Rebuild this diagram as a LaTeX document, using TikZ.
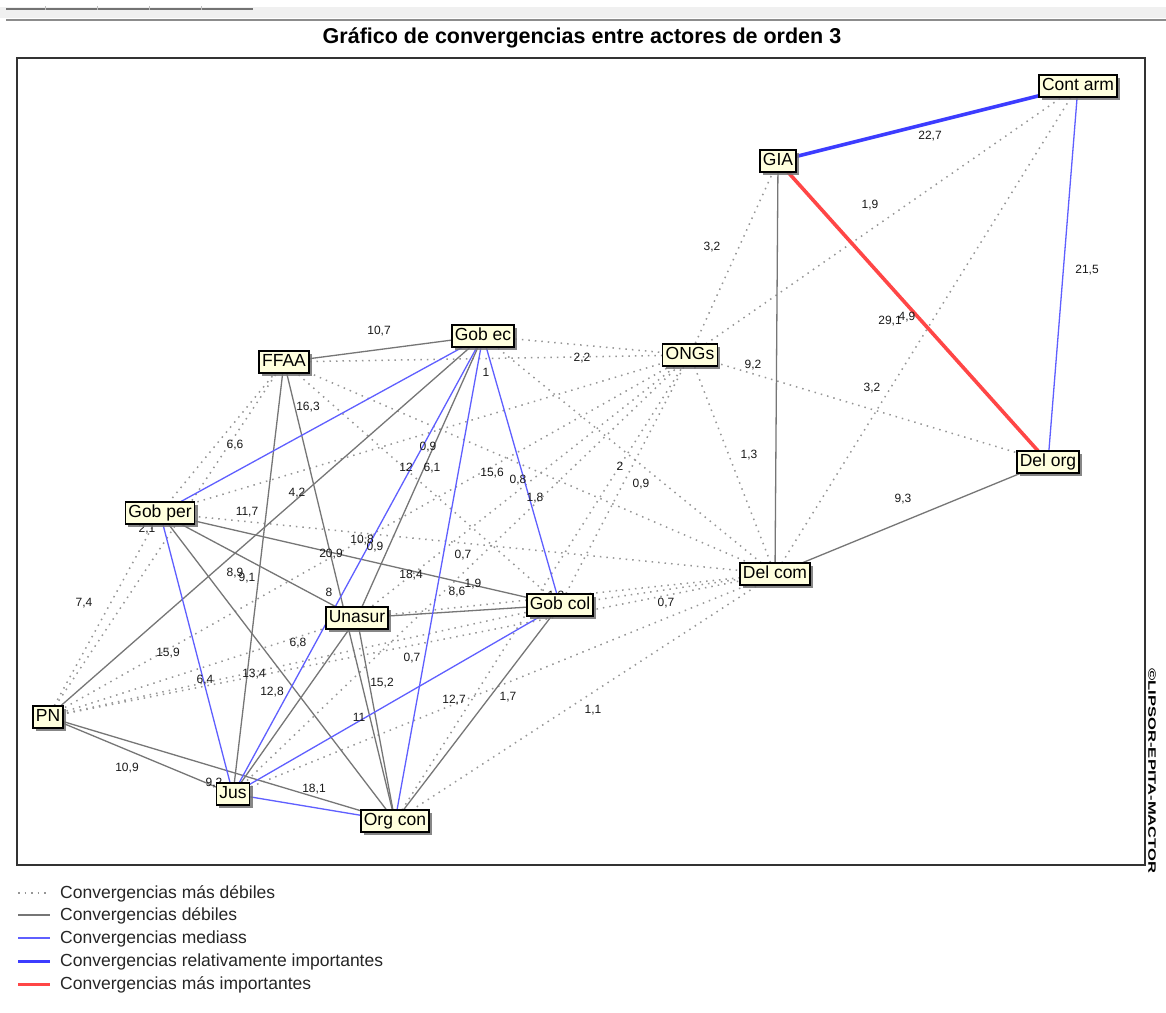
\documentclass[tikz,border=0pt]{standalone}
\usepackage{fontspec}
\setmainfont{Liberation Sans}
\usetikzlibrary{shadows}
\pgfdeclarelayer{back}
\pgfdeclarelayer{bg}
\pgfsetlayers{back,bg,main}
\definecolor{nodefill}{RGB}{255,255,222}
\definecolor{weakc}{RGB}{118,118,118}
\definecolor{dotc}{RGB}{150,150,150}
\definecolor{medc}{RGB}{95,95,255}
\definecolor{relc}{RGB}{60,60,255}
\definecolor{impc}{RGB}{255,70,70}
\begin{document}
\begin{tikzpicture}[x=1pt,y=-1pt,
  actor/.style={draw=black, line width=1.5pt, fill=nodefill,
    font=\fontsize{17.5}{17.5}\selectfont, inner xsep=3pt, inner ysep=0pt,
    minimum height=22pt, text height=12.5pt, text depth=3.5pt,
    drop shadow={shadow xshift=3pt, shadow yshift=-3pt, fill=black!55, opacity=0.85}},
  vweak/.style={draw=dotc, line width=1.5pt, dash pattern=on 1.5pt off 5pt},
  weak/.style={draw=weakc, line width=1.3pt},
  med/.style={draw=medc, line width=1.3pt},
  rel/.style={draw=relc, line width=3.6pt},
  imp/.style={draw=impc, line width=3.6pt},
  lab/.style={font=\fontsize{12}{12}\selectfont, inner sep=0pt, text=black!90},
  legtext/.style={font=\fontsize{17.5}{17.5}\selectfont, anchor=west, inner sep=0pt, text height=12.5pt, text depth=3.5pt, text=black!85}
]
\useasboundingbox (0,0) rectangle (1166,1012);
\begin{pgfonlayer}{back}
\fill[white] (0,0) rectangle (1166,1012);
% top bar
\fill[black!6] (0,7) rectangle (1166,18);
\draw[black!45, line width=2pt] (6,19.5) -- (1166,19.5);
\draw[black!55, line width=2.5pt] (6,9) -- (253,9);
\foreach \t in {45,97,149,201} \draw[black!25, line width=0.8pt] (\t,6) -- (\t,10);
% frame
\draw[black!80, line width=1.5pt] (17,58) rectangle (1145,865);
\end{pgfonlayer}
% title
\node[font=\bfseries\fontsize{21.5}{21.5}\selectfont] (title) at (582,38) {Gráfico de convergencias entre actores de orden 3};
% watermark
\node[rotate=-90, inner sep=0pt] (wm) at (1152,771) {\resizebox{205pt}{7.5pt}{\bfseries ©LIPSOR-EPITA-MACTOR}};

% actors
\node[actor] (contarm) at (1078,86) {Cont arm};
\node[actor] (gia) at (778,161) {GIA};
\node[actor] (gobec) at (483,336) {Gob ec};
\node[actor] (ffaa) at (284,362) {FFAA};
\node[actor] (ongs) at (690,355) {ONGs};
\node[actor] (delorg) at (1048,462) {Del org};
\node[actor] (gobper) at (160,513) {Gob per};
\node[actor] (delcom) at (775,574) {Del com};
\node[actor] (gobcol) at (560,605) {Gob col};
\node[actor] (unasur) at (357,618) {Unasur};
\node[actor] (pn) at (48,717) {PN};
\node[actor] (jus) at (233,794) {Jus};
\node[actor] (orgcon) at (395,821) {Org con};

\begin{pgfonlayer}{bg}
% weakest (dotted)
\foreach \a/\b in {ongs/gia, ongs/contarm, delcom/contarm, ongs/delorg, ongs/delcom,
  gobec/ongs, ffaa/ongs, gobper/ongs, pn/ongs, unasur/ongs, gobcol/ongs, jus/ongs, orgcon/ongs,
  gobec/delcom, ffaa/delcom, gobper/delcom, pn/delcom, unasur/delcom, gobcol/delcom, jus/delcom, orgcon/delcom,
  gobper/ffaa, pn/gobper, pn/ffaa, pn/unasur, pn/gobcol, ffaa/gobcol}
  \draw[vweak] (\a.center) -- (\b.center);
% weak (gray)
\foreach \a/\b in {ffaa/gobec, ffaa/jus, ffaa/orgcon, gobec/pn, gobec/unasur, gobper/gobcol,
  gobper/unasur, gobper/orgcon, unasur/gobcol, unasur/orgcon, unasur/jus, gobcol/orgcon,
  pn/jus, pn/orgcon, gia/delcom, delcom/delorg}
  \draw[weak] (\a.center) -- (\b.center);
% medium (blue)
\foreach \a/\b in {contarm/delorg, gobec/gobper, gobec/jus, gobec/orgcon, gobec/gobcol,
  gobcol/jus, gobper/jus, jus/orgcon}
  \draw[med] (\a.center) -- (\b.center);
\draw[rel] (gia.center) -- (contarm.center);
\draw[imp] (gia.center) -- (delorg.center);
% labels
\foreach \t/\x/\y [count=\i] in {22{,}7/930/136, 1{,}9/870/205, 3{,}2/712/247, 21{,}5/1087/270,
  29{,}1/890/321, 4{,}9/907/317, 9{,}2/753/365, 3{,}2/872/388, 1{,}3/749/455, 9{,}3/903/499,
  2{,}2/582/358, 2/620/466, 0{,}9/641/484, 0{,}8/518/480, 1{,}8/535/498, 0{,}7/666/603,
  1{,}3/556/596, 1{,}1/593/710, 1{,}7/508/697, 12{,}7/454/700, 11/359/717, 0{,}7/412/658,
  15{,}2/382/683, 18{,}1/314/789, 8{,}6/457/592, 1{,}9/473/584, 18{,}4/411/575, 8/329/592,
  0{,}7/463/555, 10{,}8/362/540, 0{,}9/375/547, 20{,}9/331/554, 12/406/467, 6{,}1/432/468,
  0{,}9/428/447, 15{,}6/492/473, 1/486/372, 10{,}7/379/331, 16{,}3/308/407, 4{,}2/297/493,
  11{,}7/247/512, 8{,}9/235/573, 9{,}1/247/578, 6{,}6/235/445, 2{,}1/147/529, 7{,}4/84/603,
  15{,}9/168/653, 6{,}4/205/680, 13{,}4/254/674, 12{,}8/272/692, 6{,}8/298/643, 10{,}9/127/768,
  9{,}2/214/783}
  \node[lab] (l\i) at (\x,\y) {\t};
\end{pgfonlayer}

% legend
\coordinate (lg1a) at (18,893); \coordinate (lg1b) at (50,893);
\coordinate (lg2a) at (18,915); \coordinate (lg2b) at (50,915);
\coordinate (lg3a) at (18,938); \coordinate (lg3b) at (50,938);
\coordinate (lg4a) at (18,961); \coordinate (lg4b) at (50,961);
\coordinate (lg5a) at (18,984); \coordinate (lg5b) at (50,984);
\draw[vweak] (lg1a) -- (lg1b);
\draw[weak] (lg2a) -- (lg2b);
\draw[med] (lg3a) -- (lg3b);
\draw[relc, line width=3pt] (lg4a) -- (lg4b);
\draw[impc, line width=3pt] (lg5a) -- (lg5b);
\node[legtext] (t1) at (60,894) {Convergencias más débiles};
\node[legtext] (t2) at (60,916) {Convergencias débiles};
\node[legtext] (t3) at (60,939) {Convergencias mediass};
\node[legtext] (t4) at (60,962) {Convergencias relativamente importantes};
\node[legtext] (t5) at (60,985) {Convergencias más importantes};
\end{tikzpicture}
\end{document}
